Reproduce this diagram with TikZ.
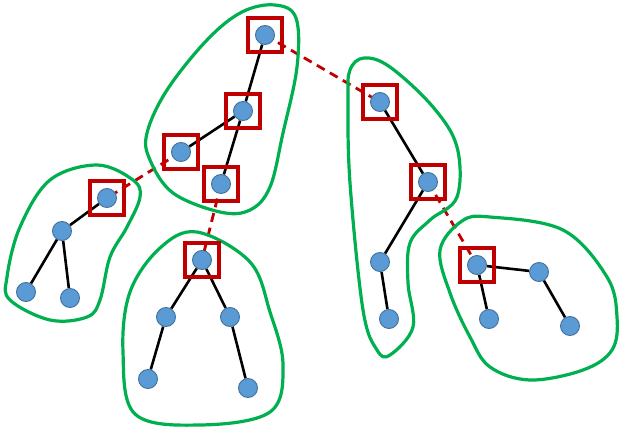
\documentclass[tikz,border=0pt]{standalone}
\usetikzlibrary{backgrounds}
\definecolor{nodeblue}{HTML}{5B9BD5}
\definecolor{nodeedge}{HTML}{41719C}
\definecolor{selred}{HTML}{C00000}
\definecolor{grpgreen}{HTML}{00B050}
\begin{document}
\begin{tikzpicture}[x=1pt,y=-1pt,
  vert/.style={circle,fill=nodeblue,draw=nodeedge,line width=0.9pt,minimum size=19pt,inner sep=0pt},
  selbox/.style={rectangle,draw=selred,line width=3.2pt,minimum size=34pt,inner sep=0pt},
  edge/.style={black,line width=2.6pt},
  link/.style={selred,line width=2.8pt,dash pattern=on 9pt off 6pt},
  group/.style={grpgreen,line width=3.2pt}]
\useasboundingbox (0,0) rectangle (619,431);
% groups
\draw[group] plot[smooth cycle,tension=0.6] coordinates {(275,5) (296,18) (297,67) (283,133) (270,187) (250,210) (220,212) (173,193) (150,160) (147,133) (167,90) (207,40) (242,12)};
\draw[group] plot[smooth cycle,tension=0.6] coordinates {(97,165) (133,180) (140,197) (127,227) (110,257) (100,300) (87,317) (50,320) (10,300) (7,277) (20,227) (50,180)};
\draw[group] plot[smooth cycle,tension=0.6] coordinates {(197,232) (250,262) (270,312) (283,365) (270,412) (200,425) (135,414) (123,352) (130,292) (160,248)};
\draw[group] plot[smooth cycle,tension=0.6] coordinates {(364,58) (390,67) (433,107) (457,147) (457,197) (430,220) (410,243) (408,283) (413,327) (390,355) (377,350) (363,310) (350,183) (348,100) (350,70)};
\draw[group] plot[smooth cycle,tension=0.6] coordinates {(462,221) (490,217) (563,230) (607,277) (617,317) (612,350) (583,370) (530,380) (490,367) (470,337) (450,293) (440,250)};
% vertices
\node[vert] (a) at (265,35) {};
\node[vert] (b) at (243,111) {};
\node[vert] (c) at (181,152) {};
\node[vert] (d) at (221,184) {};
\node[vert] (f) at (107,198) {};
\node[vert] (h) at (62,231) {};
\node[vert] (i) at (26,292) {};
\node[vert] (j) at (70,298) {};
\node[vert] (g) at (202,260) {};
\node[vert] (k) at (166,317) {};
\node[vert] (l) at (230,317) {};
\node[vert] (m) at (148,379) {};
\node[vert] (n) at (248,388) {};
\node[vert] (e) at (380,102) {};
\node[vert] (o) at (428,182) {};
\node[vert] (p) at (380,262) {};
\node[vert] (q) at (389,319) {};
\node[vert] (r) at (477,265) {};
\node[vert] (s) at (539,272) {};
\node[vert] (t) at (489,319) {};
\node[vert] (u) at (570,326) {};
\begin{scope}[on background layer]
\draw[edge] (a) -- (b); \draw[edge] (b) -- (c); \draw[edge] (b) -- (d);
\draw[edge] (f) -- (h); \draw[edge] (h) -- (i); \draw[edge] (h) -- (j);
\draw[edge] (g) -- (k); \draw[edge] (g) -- (l); \draw[edge] (k) -- (m); \draw[edge] (l) -- (n);
\draw[edge] (e) -- (o); \draw[edge] (o) -- (p); \draw[edge] (p) -- (q);
\draw[edge] (r) -- (s); \draw[edge] (r) -- (t); \draw[edge] (s) -- (u);
\draw[link] (a.center) -- (e.center);
\draw[link] (c.center) -- (f.center);
\draw[link] (d.center) -- (g.center);
\draw[link] (o.center) -- (r.center);
\end{scope}
% selection boxes
\node[selbox] (sa) at (a) {};
\node[selbox] (sb) at (b) {};
\node[selbox] (sc) at (c) {};
\node[selbox] (sd) at (d) {};
\node[selbox] (sf) at (f) {};
\node[selbox] (sg) at (g) {};
\node[selbox] (se) at (e) {};
\node[selbox] (so) at (o) {};
\node[selbox] (sr) at (r) {};
\end{tikzpicture}
\end{document}
